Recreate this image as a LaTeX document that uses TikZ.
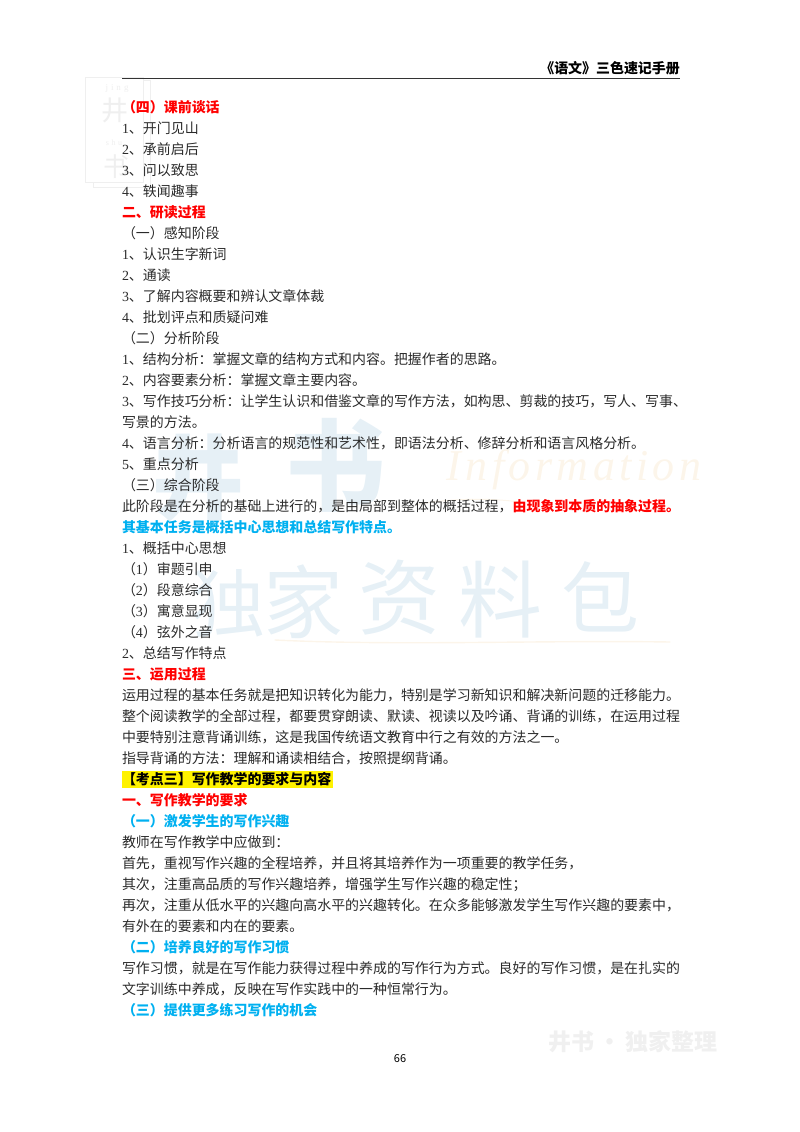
\documentclass[tikz,border=0pt]{standalone}
\usepackage{fontspec}
\setmainfont{Noto Sans CJK SC}
\newfontfamily\latinf{Liberation Serif}
\newfontfamily\infof[LetterSpace=10]{Liberation Serif Italic}
\newcommand{\dg}[1]{{\latinf #1}}
\definecolor{bodyc}{HTML}{2A2A2A}
\definecolor{redc}{HTML}{FF0000}
\definecolor{bluec}{HTML}{00B0F0}
\definecolor{wmblue}{HTML}{E6F0F6}
\definecolor{wmtan}{HTML}{FCF5EA}
\definecolor{wmgrey}{HTML}{F0F0F0}
\definecolor{stampc}{HTML}{EFEFEF}
\tikzset{
  x=1pt,y=-1pt,
  tl/.style={anchor=base west,inner sep=0pt,outer sep=0pt,font=\fontsize{13.95}{14}\selectfont,text=bodyc},
  redh/.style={tl,text=redc,font=\fontsize{13.95}{14}\selectfont\bfseries},
  blueh/.style={tl,text=bluec,font=\fontsize{13.95}{14}\selectfont\bfseries},
  wm/.style={anchor=center,inner sep=0pt,text=wmblue},
  stamp/.style={draw=stampc,line width=0.9pt,fill=none},
}
\newcommand{\tline}[3]{\node[#2] (l#1) at (122,#1+5) {#3};}
\begin{document}
\begin{tikzpicture}
\useasboundingbox (0,0) rectangle (800,1132);
% --- stamp watermark
\draw[stamp] (93,80) rectangle (150,187);
\draw[stamp,fill=white] (85,77) rectangle (143,182);
\node[anchor=center,inner sep=0pt,text=stampc,font=\latinf\fontsize{9}{9}\selectfont] (sj) at (117,88) {j\,\,i\,\,n\,\,g};
\node[wm,text=stampc,font=\fontsize{27}{27}\selectfont] (s1) at (115,110) {井};
\node[anchor=center,inner sep=0pt,text=stampc,font=\latinf\fontsize{8}{8}\selectfont] (ss) at (114,143) {s\,\,h\,\,u};
\node[wm,text=stampc,font=\fontsize{26}{26}\selectfont] (s2) at (116,167) {书};
% --- large watermark
\node[wm,font=\fontsize{92}{92}\selectfont\bfseries] (w1) at (198,478) {井};
\node[wm,font=\fontsize{100}{100}\selectfont\bfseries] (w2) at (335,465) {书};
\node[wm,font=\fontsize{74}{74}\selectfont] (w3) at (228,603) {独};
\node[wm,font=\fontsize{80}{80}\selectfont] (w4) at (303,602) {家};
\node[wm,font=\fontsize{82}{82}\selectfont] (w5) at (399,598) {资};
\node[wm,font=\fontsize{84}{84}\selectfont] (w6) at (500,600) {料};
\node[wm,font=\fontsize{78}{78}\selectfont] (w7) at (600,597) {包};
\node[anchor=center,inner sep=0pt,text=wmtan,font=\infof\fontsize{44}{44}\selectfont] (w8) at (574,470) {Information};
\coordinate (sw1) at (275,640);
\coordinate (sw2) at (670,642);
\coordinate (sw3) at (415,505);
\coordinate (sw4) at (520,502);
\draw[wmtan,line width=1.4pt,line cap=round] (sw1) .. controls (400,646) and (540,640) .. (sw2);
\draw[wmtan,line width=1pt,line cap=round] (sw3) .. controls (450,498) and (490,498) .. (sw4);
\node[anchor=center,inner sep=0pt,text=wmgrey,font=\fontsize{23}{23}\selectfont\bfseries] (w9) at (633,1042) {井书\,·\,独家整理};
% --- header
\node[anchor=base east,inner sep=0pt,text=black,font=\fontsize{13.95}{14}\selectfont\bfseries] (hd) at (680,74) {《语文》三色速记手册};
\coordinate (r1) at (122,78.5);
\coordinate (r2) at (680,78.5);
\draw[black!80,line width=1pt] (r1) -- (r2);
% --- body
\tline{107}{redh}{（四）课前谈话}
\tline{128}{tl}{\dg{1}、开门见山}
\tline{149}{tl}{\dg{2}、承前启后}
\tline{170}{tl}{\dg{3}、问以致思}
\tline{191}{tl}{\dg{4}、轶闻趣事}
\tline{212}{redh}{二、研读过程}
\tline{233}{tl}{（一）感知阶段}
\tline{254}{tl}{\dg{1}、认识生字新词}
\tline{275}{tl}{\dg{2}、通读}
\tline{296}{tl}{\dg{3}、了解内容概要和辨认文章体裁}
\tline{317}{tl}{\dg{4}、批划评点和质疑问难}
\tline{338}{tl}{（二）分析阶段}
\tline{359}{tl}{\dg{1}、结构分析：掌握文章的结构方式和内容。把握作者的思路。}
\tline{380}{tl}{\dg{2}、内容要素分析：掌握文章主要内容。}
\tline{401}{tl}{\dg{3}、写作技巧分析：让学生认识和借鉴文章的写作方法，如构思、剪裁的技巧，写人、写事、}
\tline{422}{tl}{写景的方法。}
\tline{443}{tl}{\dg{4}、语言分析：分析语言的规范性和艺术性，即语法分析、修辞分析和语言风格分析。}
\tline{464}{tl}{\dg{5}、重点分析}
\tline{485}{tl}{（三）综合阶段}
\tline{506}{tl}{此阶段是在分析的基础上进行的，是由局部到整体的概括过程，{\bfseries\color{redc}由现象到本质的抽象过程。}}
\tline{527}{blueh}{其基本任务是概括中心思想和总结写作特点。}
\tline{548}{tl}{\dg{1}、概括中心思想}
\tline{569}{tl}{（\dg{1}）审题引申}
\tline{590}{tl}{（\dg{2}）段意综合}
\tline{611}{tl}{（\dg{3}）寓意显现}
\tline{632}{tl}{（\dg{4}）弦外之音}
\tline{653}{tl}{\dg{2}、总结写作特点}
\tline{674}{redh}{三、运用过程}
\tline{695}{tl}{运用过程的基本任务就是把知识转化为能力，特别是学习新知识和解决新问题的迁移能力。}
\tline{716}{tl}{整个阅读教学的全部过程，都要贯穿朗读、默读、视读以及吟诵、背诵的训练，在运用过程}
\tline{737}{tl}{中要特别注意背诵训练，这是我国传统语文教育中行之有效的方法之一。}
\tline{758}{tl}{指导背诵的方法：理解和诵读相结合，按照提纲背诵。}
\fill[yellow] (122,771) rectangle (333,788);
\tline{779}{tl,text=black,font=\fontsize{13.95}{14}\selectfont\bfseries}{【考点三】写作教学的要求与内容}
\tline{800}{redh}{一、写作教学的要求}
\tline{821}{blueh}{（一）激发学生的写作兴趣}
\tline{842}{tl}{教师在写作教学中应做到：}
\tline{863}{tl}{首先，重视写作兴趣的全程培养，并且将其培养作为一项重要的教学任务，}
\tline{884}{tl}{其次，注重高品质的写作兴趣培养，增强学生写作兴趣的稳定性；}
\tline{905}{tl}{再次，注重从低水平的兴趣向高水平的兴趣转化。在众多能够激发学生写作兴趣的要素中，}
\tline{926}{tl}{有外在的要素和内在的要素。}
\tline{947}{blueh}{（二）培养良好的写作习惯}
\tline{968}{tl}{写作习惯，就是在写作能力获得过程中养成的写作行为方式。良好的写作习惯，是在扎实的}
\tline{989}{tl}{文字训练中养成，反映在写作实践中的一种恒常行为。}
\tline{1010}{blueh}{（三）提供更多练习写作的机会}
\node[anchor=center,inner sep=0pt,text=black,font=\fontsize{11}{11}\selectfont] (pg) at (400,1059) {66};
\end{tikzpicture}
\end{document}
